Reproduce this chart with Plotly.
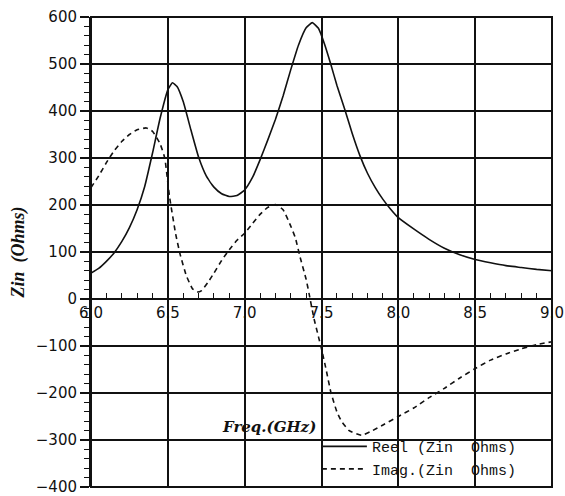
import plotly.graph_objects as go

freq_real = [6.00, 6.05, 6.10, 6.15, 6.20, 6.25, 6.30, 6.35, 6.40, 6.45, 6.50, 6.53, 6.56, 6.60,
             6.65, 6.70, 6.75, 6.80, 6.85, 6.90, 6.95, 7.00, 7.05, 7.10, 7.15, 7.20, 7.25, 7.30,
             7.35, 7.40, 7.44, 7.48, 7.52, 7.56, 7.60, 7.65, 7.70, 7.75, 7.80, 7.85, 7.90, 7.95,
             8.00, 8.10, 8.20, 8.30, 8.40, 8.50, 8.60, 8.70, 8.80, 8.90, 9.00]
zin_real = [55, 65, 80, 98, 122, 152, 190, 240, 310, 385, 445, 460, 452, 420,
            360, 302, 262, 238, 224, 218, 220, 232, 258, 296, 338, 382, 432, 488,
            540, 577, 588, 576, 542, 500, 455, 405, 352, 305, 267, 237, 212, 191,
            173, 149, 127, 108, 94, 84, 77, 71, 67, 63, 60]

freq_imag = [6.00, 6.05, 6.10, 6.15, 6.20, 6.25, 6.30, 6.36, 6.40, 6.45, 6.48, 6.51, 6.55, 6.58,
             6.62, 6.66, 6.69, 6.72, 6.76, 6.80, 6.85, 6.90, 6.95, 7.00, 7.05, 7.10, 7.15, 7.20,
             7.25, 7.30, 7.33, 7.36, 7.40, 7.42, 7.45, 7.48, 7.50, 7.53, 7.56, 7.60, 7.63, 7.68,
             7.76, 7.82, 7.90, 8.00, 8.10, 8.20, 8.30, 8.40, 8.50, 8.60, 8.70, 8.80, 8.90, 9.00]
zin_imag = [237, 262, 290, 315, 335, 350, 360, 364, 357, 330, 300, 220, 140, 95,
            50, 22, 15, 18, 35, 55, 82, 105, 125, 140, 160, 180, 195, 201,
            190, 155, 130, 90, 42, 10, -40, -80, -106, -150, -197, -240, -260, -280,
            -290, -282, -268, -250, -232, -210, -190, -168, -148, -130, -117, -106, -97, -91]

x_ticks = [6.0, 6.5, 7.0, 7.5, 8.0, 8.5, 9.0]
y_ticks = [-400, -300, -200, -100, 0, 100, 200, 300, 400, 500, 600]

fig = go.Figure()
fig.add_trace(go.Scatter(x=freq_real, y=zin_real, mode="lines", name="Reel (Zin  Ohms)",
                         line=dict(color="#111", width=1.6, shape="spline", smoothing=0.4)))
fig.add_trace(go.Scatter(x=freq_imag, y=zin_imag, mode="lines", name="Imag.(Zin  Ohms)",
                         line=dict(color="#111", width=1.6, dash="5px,4px", shape="spline", smoothing=0.4)))

fig.update_layout(
    width=565, height=496,
    margin=dict(l=91, r=13, t=17, b=9, autoexpand=False),
    paper_bgcolor="white", plot_bgcolor="white",
    font=dict(family="DejaVu Sans", color="#111"),
    showlegend=True,
    legend=dict(x=0.49, y=0.121, xanchor="left", yanchor="top",
                bgcolor="rgba(0,0,0,0)", borderwidth=0,
                font=dict(family="Liberation Mono", size=15, color="#111"),
                tracegroupgap=0, itemwidth=45),
    xaxis=dict(range=[6.0, 9.0], tickvals=x_ticks, tickformat=".1f",
               anchor="free", position=0.4, automargin=False, ticklabeloverflow="allow",
               showline=True, linecolor="#111", linewidth=2,
               ticks="inside", ticklen=8, tickwidth=1.5, tickcolor="#111",
               minor=dict(dtick=0.1, ticks="inside", ticklen=5, tickwidth=1.2, tickcolor="#111", showgrid=False),
               showgrid=True, gridcolor="#111", gridwidth=1.5, zeroline=False,
               tickfont=dict(family="DejaVu Sans", size=15, color="#111")),
    yaxis=dict(range=[-400, 600], tickvals=y_ticks, domain=[0, 1], automargin=False,
               ticklabeloverflow="allow",
               showline=True, linecolor="#111", linewidth=2,
               ticks="outside", ticklen=9, tickwidth=1.5, tickcolor="#111",
               minor=dict(dtick=20, ticks="outside", ticklen=5, tickwidth=1.2, tickcolor="#111", showgrid=False),
               showgrid=True, gridcolor="#111", gridwidth=1.5, zeroline=False,
               tickfont=dict(family="DejaVu Sans", size=15, color="#111"),
               title=dict(text="<b><i>Zin  (Ohms)</i></b>", standoff=6,
                          font=dict(family="Liberation Serif", size=18, color="#111"))),
    shapes=[dict(type="rect", xref="paper", yref="paper", x0=0, x1=1, y0=0, y1=1,
                 line=dict(color="#111", width=2))],
    annotations=[dict(text="<b><i>Freq.(GHz)</i></b>", xref="paper", yref="paper",
                      x=0.386, y=0.128, xanchor="center", yanchor="middle", showarrow=False,
                      font=dict(family="DejaVu Serif", size=15, color="#111"))],
)

fig.write_html("out.html")
